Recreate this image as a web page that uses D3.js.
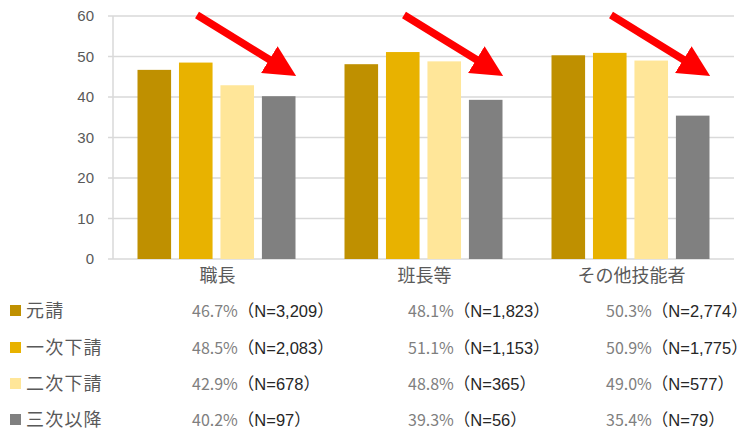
<!DOCTYPE html>
<html>
<head>
<meta charset="utf-8">
<script src="https://cdn.jsdelivr.net/npm/d3@7"></script>
<style>
  body { margin: 0; background: #fff; }
  svg { display: block; font-family: "Noto Sans CJK JP", "Liberation Sans", sans-serif; }
</style>
</head>
<body>
<svg id="chart" width="753" height="438"></svg>
<script>
const categories = ['職長', '班長等', 'その他技能者'];
const series = ['元請', '一次下請', '二次下請', '三次以降'];
const seriesColors = ['#BF9000', '#E8B200', '#FFE699', '#808080'];
const values = [
  [46.7, 48.1, 50.3],
  [48.5, 51.1, 50.9],
  [42.9, 48.8, 49.0],
  [40.2, 39.3, 35.4]
];
const counts = [
  ['3,209', '1,823', '2,774'],
  ['2,083', '1,153', '1,775'],
  ['678', '365', '577'],
  ['97', '56', '79']
];
const yTicks = [0, 10, 20, 30, 40, 50, 60];

const svg = d3.select('#chart');
const plot = { left: 113, right: 734, top: 16, bottom: 259 };

const x = d3.scaleBand().domain(categories).range([plot.left, plot.right]).paddingInner(0).paddingOuter(0);
const xInner = d3.scaleBand().domain(series).range([0, 158]).paddingInner(0.19);
const y = d3.scaleLinear().domain([0, 60]).range([plot.bottom, plot.top]);

// gridlines
svg.append('g').selectAll('line')
  .data(yTicks)
  .enter().append('line')
  .attr('x1', plot.left - 5).attr('x2', plot.right)
  .attr('y1', d => y(d)).attr('y2', d => y(d))
  .attr('stroke', '#D9D9D9').attr('stroke-width', 1.5);

svg.append('line')
  .attr('x1', plot.left).attr('x2', plot.left)
  .attr('y1', plot.top).attr('y2', plot.bottom)
  .attr('stroke', '#D9D9D9').attr('stroke-width', 1.5);

// y tick labels
svg.append('g').selectAll('text')
  .data(yTicks)
  .enter().append('text')
  .attr('x', 94).attr('y', d => y(d))
  .attr('dy', '0.35em')
  .attr('text-anchor', 'end')
  .attr('font-size', 15)
  .attr('font-family', '"Liberation Sans", sans-serif')
  .attr('fill', '#595959')
  .text(d => d);

// bars
const groupOffset = (x.bandwidth() - 158) / 2;
series.forEach((s, si) => {
  svg.append('g').selectAll('rect')
    .data(values[si])
    .enter().append('rect')
    .attr('x', (d, i) => x(categories[i]) + groupOffset + xInner(s))
    .attr('y', d => y(d))
    .attr('width', xInner.bandwidth())
    .attr('height', d => y(0) - y(d))
    .attr('fill', seriesColors[si]);
});

// category labels
svg.append('g').selectAll('text')
  .data(categories)
  .enter().append('text')
  .attr('x', d => x(d) + x.bandwidth() / 2 + 1)
  .attr('y', 276)
  .attr('dy', '0.35em')
  .attr('text-anchor', 'middle')
  .attr('font-size', 18)
  .attr('fill', '#595959')
  .text(d => d);

// red arrows (tail near top of each band, tip to the right of the last bar)
svg.append('defs').append('marker')
  .attr('id', 'head')
  .attr('viewBox', '0 0 10 10')
  .attr('refX', 3.6).attr('refY', 5)
  .attr('markerWidth', 4.2).attr('markerHeight', 4.2)
  .attr('markerUnits', 'strokeWidth')
  .attr('orient', 'auto')
  .append('path').attr('d', 'M0,0 L10,5 L0,10 Z').attr('fill', '#FF0000');

const arrowTail = [84, 15], arrowTip = [183, 76];
const alen = Math.hypot(arrowTip[0] - arrowTail[0], arrowTip[1] - arrowTail[1]);
const ux = (arrowTip[0] - arrowTail[0]) / alen, uy = (arrowTip[1] - arrowTail[1]) / alen;
svg.append('g').selectAll('line')
  .data(categories)
  .enter().append('line')
  .attr('x1', d => x(d) + arrowTail[0])
  .attr('y1', arrowTail[1])
  .attr('x2', d => x(d) + arrowTip[0] - 20 * ux)
  .attr('y2', arrowTip[1] - 20 * uy)
  .attr('stroke', '#FF0000')
  .attr('stroke-width', 7.5)
  .attr('marker-end', 'url(#head)');

// table / legend
const rowY = [311, 348, 384, 420];
const colX = [192, 408, 606];
const legend = svg.append('g');
series.forEach((s, si) => {
  legend.append('rect')
    .attr('x', 10).attr('y', rowY[si] - 6)
    .attr('width', 11).attr('height', 11)
    .attr('fill', seriesColors[si]);
  legend.append('text')
    .attr('x', 26).attr('y', rowY[si])
    .attr('dy', '0.35em')
    .attr('font-size', 18)
    .attr('letter-spacing', 1.2)
    .attr('fill', '#595959')
    .text(s);
  values[si].forEach((v, ci) => {
    const t = legend.append('text')
      .attr('x', colX[ci]).attr('y', rowY[si])
      .attr('dy', '0.35em')
      .attr('font-size', 16);
    t.append('tspan').attr('fill', '#7F7F7F').text(v.toFixed(1) + '%');
    t.append('tspan').attr('fill', '#262626')
      .attr('font-family', '"Liberation Sans", "Noto Sans CJK JP", sans-serif')
      .attr('font-size', 16.5)
      .text('（N=' + counts[si][ci] + '）');
  });
});
</script>
</body>
</html>
